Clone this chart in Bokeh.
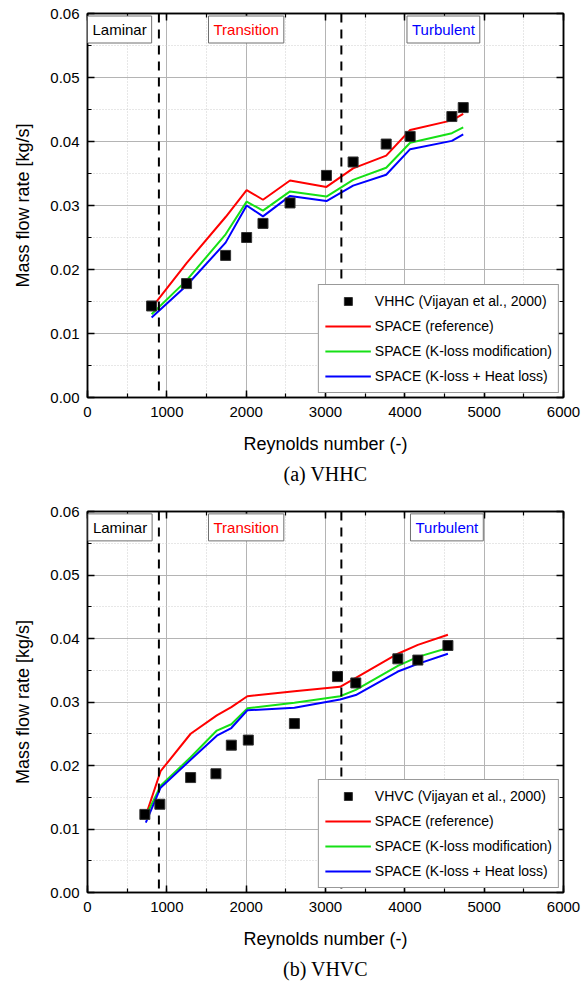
from bokeh.plotting import figure
from bokeh.models import (LinearAxis, SingleIntervalTicker, Range1d, Label, Legend,
                          LegendItem, Span, Title, PrintfTickFormatter)
from bokeh.layouts import column
from bokeh.embed import file_html
from bokeh.resources import INLINE

# ---------------- data ----------------
regions = ["Laminar", "Transition", "Turbulent"]
region_colors = ["black", "red", "blue"]
region_bounds = [900, 3200]
x_title = "Reynolds number (-)"
y_title = "Mass flow rate [kg/s]"

# (a) VHHC
hhc_exp_re = [808, 1249, 1741, 2006, 2212, 2553, 3012, 3348, 3765, 4067, 4593, 4736]
hhc_exp_m = [0.0143, 0.0178, 0.0222, 0.0250, 0.0272, 0.0304, 0.0347, 0.0368, 0.0396, 0.0408, 0.0439, 0.0453]
hhc_sim_re = [808, 1249, 1741, 2006, 2212, 2553, 3012, 3348, 3765, 4067, 4593, 4736]
hhc_ref = [0.0140, 0.0210, 0.0282, 0.0324, 0.0309, 0.0339, 0.0329, 0.0358, 0.0378, 0.0418, 0.0433, 0.0443]
hhc_kloss = [0.0130, 0.0183, 0.0255, 0.0306, 0.0292, 0.0322, 0.0314, 0.0340, 0.0359, 0.0398, 0.0413, 0.0422]
hhc_heat = [0.0125, 0.0175, 0.0242, 0.0300, 0.0283, 0.0315, 0.0307, 0.0331, 0.0348, 0.0388, 0.0401, 0.0411]

# (b) VHVC
hvc_exp_re = [723, 912, 1300, 1619, 1813, 2027, 2608, 3151, 3382, 3912, 4164, 4543]
hvc_exp_m = [0.0123, 0.0139, 0.0181, 0.0187, 0.0232, 0.0240, 0.0266, 0.0340, 0.0330, 0.0368, 0.0366, 0.0389]
hvc_sim_re = [735, 921, 1300, 1630, 1813, 2015, 2608, 3184, 3382, 3912, 4164, 4543]
hvc_ref = [0.0121, 0.0191, 0.0250, 0.0279, 0.0292, 0.0309, 0.0317, 0.0324, 0.0338, 0.0376, 0.0390, 0.0406]
hvc_kloss = [0.0120, 0.0168, 0.0213, 0.0255, 0.0265, 0.0290, 0.0299, 0.0309, 0.0319, 0.0357, 0.0371, 0.0385]
hvc_heat = [0.0110, 0.0165, 0.0209, 0.0247, 0.0259, 0.0287, 0.0291, 0.0304, 0.0311, 0.0348, 0.0360, 0.0376]

FONT = "Liberation Sans"


def style_axis(ax, show_labels=True):
    ax.axis_line_color = "black"
    ax.axis_line_width = 1.5
    ax.major_tick_in = 7
    ax.major_tick_out = 0
    ax.minor_tick_in = 4
    ax.minor_tick_out = 0
    ax.major_tick_line_color = "black"
    ax.minor_tick_line_color = "black"
    ax.major_tick_line_width = 1.5
    ax.minor_tick_line_width = 1.2
    ax.major_label_text_font = FONT
    ax.axis_label_text_font = FONT
    ax.axis_label_text_font_style = "normal"
    ax.axis_label_text_color = "black"
    ax.axis_label_text_font_size = "18px"
    if show_labels:
        ax.major_label_text_font_size = "15px"
        ax.major_label_text_color = "black"
    else:
        ax.major_label_text_font_size = "1px"
        ax.major_label_text_color = None
        ax.major_label_standoff = 0


def make_plot(exp_re, exp_m, sim_re, ref, kloss, heat, exp_name, caption,
              height, top_border, bottom_border, lam_x, tur_x):
    p = figure(width=582, height=height, x_range=Range1d(0, 6000), y_range=Range1d(0, 0.06),
               output_backend="svg", toolbar_location=None, title=None,
               min_border_left=87, min_border_right=19, min_border_top=top_border,
               min_border_bottom=bottom_border, background_fill_color="white",
               border_fill_color="white", outline_line_color="black", outline_line_width=1.5)

    xt = SingleIntervalTicker(interval=1000, num_minor_ticks=2)
    yt = SingleIntervalTicker(interval=0.01, num_minor_ticks=2)
    p.xaxis[0].ticker = xt
    p.yaxis[0].ticker = yt
    p.xgrid[0].ticker = xt
    p.ygrid[0].ticker = yt
    p.yaxis[0].formatter = PrintfTickFormatter(format="%.2f")
    style_axis(p.xaxis[0])
    style_axis(p.yaxis[0])
    p.xaxis[0].axis_label = x_title
    p.yaxis[0].axis_label = y_title
    p.xaxis[0].major_label_standoff = 9
    p.yaxis[0].major_label_standoff = 8
    p.xaxis[0].axis_label_standoff = 14
    p.yaxis[0].axis_label_standoff = 14

    top = LinearAxis(ticker=xt)
    right = LinearAxis(ticker=yt)
    style_axis(top, False)
    style_axis(right, False)
    p.add_layout(top, "above")
    p.add_layout(right, "right")

    for g in (p.xgrid[0], p.ygrid[0]):
        g.grid_line_color = "#b4b4b4"
        g.grid_line_width = 1
        g.minor_grid_line_color = "#cfcfcf"
        g.minor_grid_line_dash = "1 2"
        g.minor_grid_line_width = 1

    for b in region_bounds:
        p.add_layout(Span(location=b, dimension="height", line_color="black",
                          line_width=2, line_dash="9 7"))

    r_ref = p.line(sim_re, ref, line_color="#ff0000", line_width=2)
    r_kl = p.line(sim_re, kloss, line_color="#16e016", line_width=2)
    r_ht = p.line(sim_re, heat, line_color="#0000ff", line_width=2)
    r_exp = p.scatter(exp_re, exp_m, marker="square", size=10, fill_color="black",
                      line_color="#333333")

    xs = [lam_x, 2000, tur_x]
    for txt, col, xv in zip(regions, region_colors, xs):
        p.add_layout(Label(x=xv, y=0.0575, text=txt, text_align="center",
                           text_baseline="middle", text_font=FONT, text_font_size="15px",
                           text_color=col, background_fill_color="white",
                           border_line_color="#707070", border_line_width=1, padding=5))

    legend = Legend(items=[
        LegendItem(label=exp_name, renderers=[r_exp]),
        LegendItem(label="SPACE (reference)", renderers=[r_ref]),
        LegendItem(label="SPACE (K-loss modification)", renderers=[r_kl]),
        LegendItem(label="SPACE (K-loss + Heat loss)", renderers=[r_ht]),
    ], location="bottom_right")
    legend.label_text_font = FONT
    legend.label_text_font_size = "14px"
    legend.label_text_color = "black"
    legend.glyph_width = 46
    legend.glyph_height = 20
    legend.label_height = 20
    legend.spacing = 5
    legend.padding = 6
    legend.margin = 4
    legend.label_standoff = 4
    legend.border_line_color = "#333333"
    legend.border_line_width = 1
    legend.background_fill_alpha = 1
    p.add_layout(legend)

    p.add_layout(Title(text=caption, align="center", text_font="Liberation Serif",
                       text_font_size="20px", text_font_style="normal",
                       text_color="black", standoff=8), "below")
    return p


p1 = make_plot(hhc_exp_re, hhc_exp_m, hhc_sim_re, hhc_ref, hhc_kloss, hhc_heat,
               "VHHC (Vijayan et al., 2000)", "(a) VHHC", 500, 13, 103, 404, 4486)
p2 = make_plot(hvc_exp_re, hvc_exp_m, hvc_sim_re, hvc_ref, hvc_kloss, hvc_heat,
               "VHVC (Vijayan et al., 2000)", "(b) VHVC", 487, 11, 95, 410, 4530)

layout = column(p1, p2, spacing=0)
open("out.html", "w").write(file_html(layout, INLINE))
